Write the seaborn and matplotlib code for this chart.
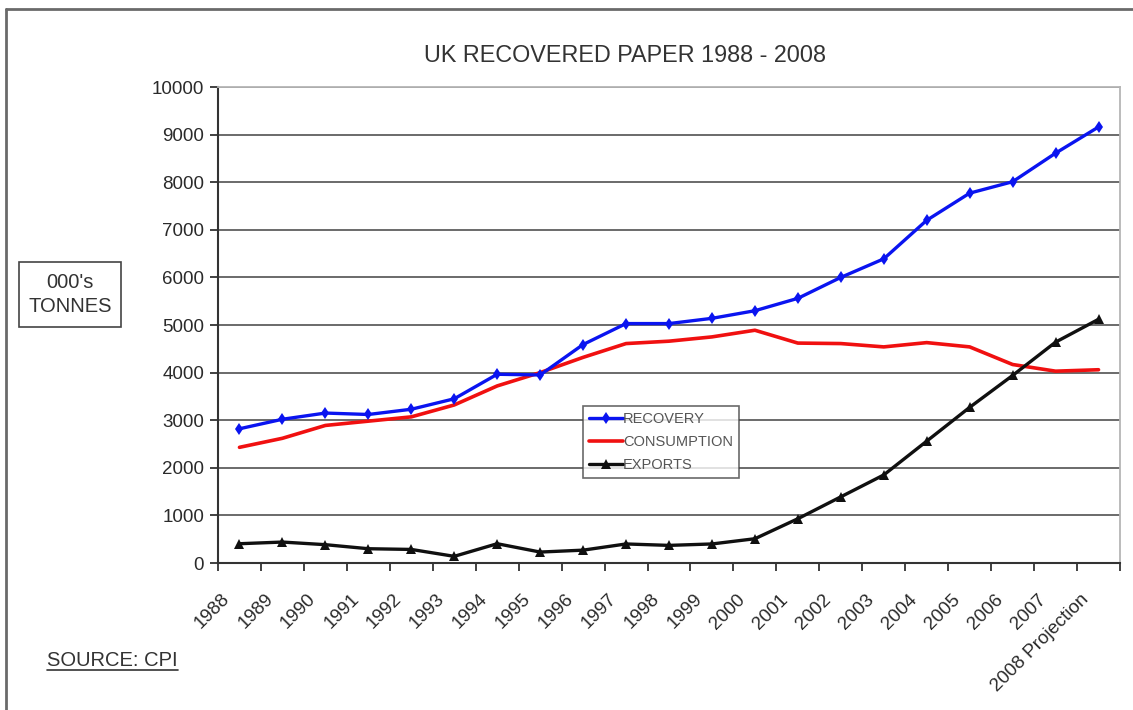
import matplotlib
matplotlib.use("Agg")
import matplotlib.pyplot as plt
from matplotlib.lines import Line2D
from matplotlib.patches import Rectangle
import numpy as np
import pandas as pd
import seaborn as sns

# UK recovered paper, thousand tonnes
years = ["1988", "1989", "1990", "1991", "1992", "1993", "1994", "1995", "1996",
         "1997", "1998", "1999", "2000", "2001", "2002", "2003", "2004", "2005",
         "2006", "2007", "2008 Projection"]
recovery = [2820, 3020, 3150, 3120, 3230, 3450, 3965, 3950, 4590, 5030, 5030,
            5140, 5300, 5560, 6000, 6390, 7200, 7770, 8010, 8610, 9160]
consumption = [2430, 2620, 2890, 2980, 3070, 3320, 3720, 4000, 4320, 4610, 4660,
               4750, 4890, 4620, 4610, 4540, 4630, 4540, 4170, 4030, 4060]
exports = [405, 440, 385, 300, 285, 140, 405, 230, 270, 400, 370, 400, 510, 930,
           1390, 1850, 2560, 3270, 3940, 4640, 5120]
y_ticks = [0, 1000, 2000, 3000, 4000, 5000, 6000, 7000, 8000, 9000, 10000]

sns.set_theme(style="white")
plt.rcParams["font.family"] = ["Liberation Sans", "DejaVu Sans"]

W, H = 1133, 710
fig = plt.figure(figsize=(W / 100, H / 100), dpi=100)
ax = fig.add_axes([218 / W, 1 - 563 / H, (1120 - 218) / W, (563 - 87) / H])

df = pd.DataFrame({
    "pos": np.arange(len(years)),
    "RECOVERY": recovery,
    "CONSUMPTION": consumption,
    "EXPORTS": exports,
})

sns.lineplot(data=df, x="pos", y="RECOVERY", ax=ax, color="#0a14f0", lw=2.4,
             marker="d", markersize=6, markeredgewidth=0, label="RECOVERY",
             zorder=4)
sns.lineplot(data=df, x="pos", y="CONSUMPTION", ax=ax, color="#f01010", lw=2.6,
             label="CONSUMPTION", zorder=3)
sns.lineplot(data=df, x="pos", y="EXPORTS", ax=ax, color="#101010", lw=2.4,
             marker="^", markersize=6.5, markeredgewidth=0, label="EXPORTS",
             zorder=5)

# axes limits; tick marks sit on category boundaries, labels hang below
ax.set_xlim(-0.5, len(years) - 0.5)
ax.set_ylim(0, 10000)
ax.set_xticks(np.arange(-0.5, len(years), 1.0))
ax.set_xticklabels([])
label_anchor = np.arange(len(years)) - 0.42
ax.set_xticks(label_anchor, minor=True)
ax.set_xticklabels(years, minor=True, rotation=45, ha="right", va="top",
                   rotation_mode="anchor", fontsize=13.5, color="#2a2a2a")
ax.tick_params(axis="x", which="major", direction="out", length=6, width=1.3,
               color="#333333", bottom=True)
ax.tick_params(axis="x", which="minor", length=0, pad=20, bottom=True)
ax.set_yticks(y_ticks)
ax.set_yticklabels([str(v) for v in y_ticks], fontsize=13.5, color="#2a2a2a")
ax.tick_params(axis="y", direction="out", length=6, width=1.3, color="#333333",
               left=True, pad=4)
ax.set_xlabel("")
ax.set_ylabel("")

ax.yaxis.grid(True, color="#6a6a6a", lw=1.4)
ax.xaxis.grid(False)
ax.set_axisbelow(True)
for side in ("left", "bottom"):
    ax.spines[side].set_color("#333333")
    ax.spines[side].set_linewidth(1.5)
for side in ("top", "right"):
    ax.spines[side].set_color("#b5b5b5")
    ax.spines[side].set_linewidth(1.3)

# legend
leg = ax.legend(loc="upper left", bbox_to_anchor=(583 / W, 1 - 406 / H),
                bbox_transform=fig.transFigure, borderaxespad=0,
                fancybox=False, frameon=True, fontsize=10.5, handlelength=2.35,
                handletextpad=0.0, labelspacing=0.62, borderpad=0.4,
                edgecolor="#444444")
leg.get_frame().set_linewidth(1.2)
for t in leg.get_texts():
    t.set_color("#555555")

# title
fig.text(625 / W, 1 - 55 / H, "UK RECOVERED PAPER 1988 - 2008", ha="center",
         va="center", fontsize=16.8, color="#333333")

# units box
fig.patches.append(Rectangle((19 / W, 1 - 327 / H), 102 / W, 65 / H,
                             transform=fig.transFigure, fill=False,
                             edgecolor="#444444", lw=1.2))
fig.text(70 / W, 1 - 283 / H, "000's", ha="center", va="center", fontsize=14.5,
         color="#333333")
fig.text(70 / W, 1 - 307 / H, "TONNES", ha="center", va="center", fontsize=14.5,
         color="#333333")

# source note, underlined
fig.text(47 / W, 1 - 660 / H, "SOURCE: CPI", ha="left", va="center",
         fontsize=14.5, color="#333333")
fig.lines.append(Line2D([47 / W, 178 / W], [1 - 670 / H, 1 - 670 / H],
                        transform=fig.transFigure, color="#333333", lw=1.2))

# outer frame (left and top edges)
fig.lines.append(Line2D([6 / W, 6 / W], [0, 1 - 9 / H],
                        transform=fig.transFigure, color="#6a6a6a", lw=2))
fig.lines.append(Line2D([6 / W, 1], [1 - 9 / H, 1 - 9 / H],
                        transform=fig.transFigure, color="#6a6a6a", lw=2))

fig.savefig("out.png", dpi=100, facecolor="white")
